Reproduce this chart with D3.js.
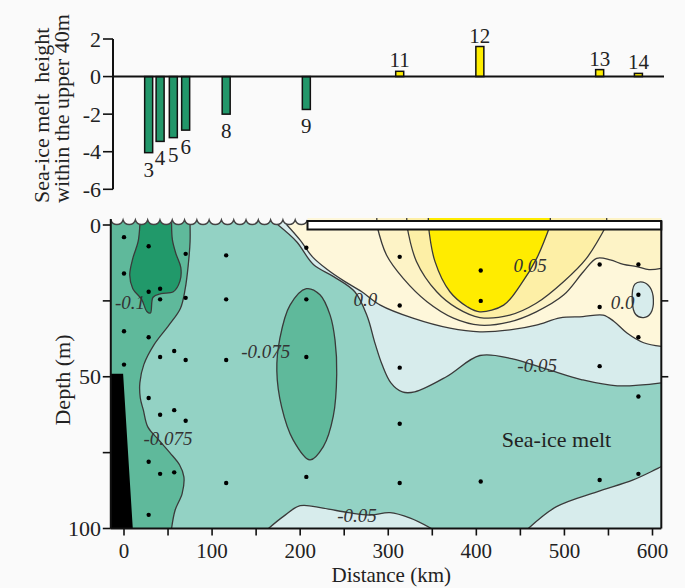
<!DOCTYPE html>
<html>
<head>
<meta charset="utf-8">
<script src="https://cdn.jsdelivr.net/npm/d3@7"></script>
<style>
  html, body { margin: 0; padding: 0; background: #fafafa; }
  svg { display: block; font-family: "Liberation Serif", "Times New Roman", serif; }
</style>
</head>
<body>
<svg id="chart" width="685" height="588"></svg>
<script>
// ---- stations and sea-ice melt height in the upper 40 m ----
const stationIds  = [3, 4, 5, 6, 8, 9, 11, 12, 13, 14];
const stationKm   = [28, 41, 56, 70, 116, 207, 313, 404, 540, 584];
const meltHeight  = [-4.05, -3.45, -3.25, -2.85, -2.0, -1.75, 0.28, 1.6, 0.37, 0.17];
const meltTicks   = [2, 0, -2, -4, -6];

// ---- CTD sample positions (distance km, depth m) ----
const sampleKm = [
  0, 0, 0, 0,
  28, 28, 28, 28, 28, 28,
  41, 41, 41, 41, 41,
  57, 57, 57,
  70, 70, 70, 70,
  116, 116, 116, 116,
  207, 207, 207, 207,
  313, 313, 313, 313, 313,
  405, 405, 405,
  540, 540, 540, 540,
  584, 584, 584, 584, 584
];
const sampleDepth = [
  4, 16, 35, 46,
  7, 22, 37, 57, 78, 95.5,
  21, 24.5, 43.5, 62.5, 82,
  41.5, 61, 81.5,
  9.5, 24, 44.5, 64.5,
  10, 24.5, 44.5, 85,
  7.5, 24.5, 43.5, 83,
  10.5, 26.5, 47, 65.5, 85,
  15, 25, 84.5,
  13, 27, 46.5, 84,
  13, 23, 37, 56.5, 82
];

// ---- axis ticks ----
const distTicks   = [0, 50, 100, 150, 200, 250, 300, 350, 400, 450, 500, 550, 600];
const distLabels  = [0, 100, 200, 300, 400, 500, 600];
const depthTicks  = [0, 25, 50, 75, 100];
const depthLabels = [0, 50, 100];
const rightTicks  = [25, 50];

// ---- sea-ice melt fraction contours (km, m) ----
const contourDeep    = [[18,0],[16,5.5],[10,11],[6.5,16.5],[10,21],[20,24.5],[26,28.5],[30,29],[33,23.8],[42,22.6],[56,22],[63.5,18.5],[64.5,14],[59,9.5],[55,5],[54,0]];        // -0.1
const contourWest    = [[75,0],[75,5.5],[73,13],[69.5,21],[64,27.5],[51,33],[34,39.5],[22.5,46],[18,52],[18.5,57],[22,61],[27,66.5],[40,71],[52,75],[63,79],[68,83],[66,88.5],[58,94],[54,100]]; // -0.075
const contourCore    = [[207,21],[222.5,23],[234,29.7],[239.6,38],[241.5,49],[237.6,63],[226.3,73],[211,77.4],[192,70.8],[179,60],[173.5,48],[177,37.3],[188.5,26.4]]; // -0.075 (closed)
const contourUpper   = [[175,0],[196,5.5],[215,13],[238,17],[262,22],[276,30],[285,39],[293,46],[303,52],[316,55],[330,55],[366,50],[404,43],[440,44],[480,47.5],[520,51],[560,53],[610,52]]; // -0.05
const contourBottomA = [[164,100],[181,96],[200,92.5],[226,93.3],[255,94.8],[279,95.6],[302,94.8],[325,96.6],[349,100]]; // -0.05
const contourBottomB = [[459,100],[491,92.8],[537,87.9],[578,84],[610,79.6]];  // -0.05
const contourZero    = [[185,0],[200,5],[214,10.5],[230,14.5],[250,18.5],[270,22],[291,26.4],[328,30.7],[370,34],[404,35.2],[440,34.5],[468,33],[495,30.6],[521,30.2],[544,29.7],[556,31.7],[571,35.6],[590,38.8],[610,40]]; // 0.0
const contourEddy    = [[580,19.5],[589,18.8],[597,20.5],[601,24.5],[598,29],[590,30.5],[581,29.5],[577,25]]; // 0.0 (closed)
const contourRing1   = [[287,0],[298,9.9],[317,17.6],[344,25.3],[374,30.7],[404,33],[438,31.9],[468,28.6],[499,23.1],[521.5,15.4],[536.6,11],[552,11.5],[567,13],[582,13.7],[596,14.7],[610,14.3]];
const contourRing2   = [[321,0],[332,12],[355,22],[378,27.4],[404,30.5],[438,29.7],[468,25.8],[499,18.7],[525,11],[548,0]];
const contourMax     = [[345.5,0],[353,12],[370,22],[390,27],[404,28.6],[431,26.4],[450,19.8],[468.5,11],[484,0]]; // 0.05
const shelf          = [[-15,49],[-1,49],[10,100],[-15,100]];

// contour labels: text, km, depth (baseline)
const labelText  = ["-0.1", "-0.075", "-0.075", "0.0", "0.05", "-0.05", "0.0", "-0.05"];
const labelKm    = [6.8, 161, 50, 274, 461, 469, 566, 264.5];
const labelDepth = [27.7, 43.8, 72.5, 26.7, 15.5, 48.4, 27.7, 97.9];

// ---- colours ----
const cDeep = "#21996a", cMid = "#5fb99b", cTeal = "#93d2c4", cBlue = "#d7ecec",
      cCream = "#fef7da", cPale = "#fdf3c6", cWarm = "#fdefa6", cCoreFill = "#ffec00";

const svg = d3.select("#chart");
const bg = "#fafafa";

// ---- scales ----
const x = d3.scaleLinear().domain([0, 600]).range([124, 652.5]);
const yD = d3.scaleLinear().domain([0, 100]).range([225, 528.5]);
const yM = d3.scaleLinear().domain([-6, 2]).range([189.3, 39]);

const kmMin = -15, kmMax = 610;
const plotL = x(kmMin), plotR = x(kmMax), plotB = yD(100);
const topFill = 218;           // fills run up under the surface symbol
const iceStart = 307.5;

// ================= TOP PANEL =================
const meltPanel = svg.append("g");
const meltAxisX = 113;

meltPanel.append("line").attr("x1", meltAxisX).attr("x2", meltAxisX)
  .attr("y1", yM(2)).attr("y2", yM(-6)).attr("stroke", "#111").attr("stroke-width", 2);
meltTicks.forEach(t => {
  meltPanel.append("line").attr("x1", meltAxisX - 10).attr("x2", meltAxisX)
    .attr("y1", yM(t)).attr("y2", yM(t)).attr("stroke", "#111").attr("stroke-width", 1.6);
  meltPanel.append("text").attr("x", 101).attr("y", yM(t) + 7.5)
    .attr("text-anchor", "end").attr("font-size", 22).attr("fill", "#222").text(t);
});

const bars = stationIds.map((id, i) => ({ id, km: stationKm[i], v: meltHeight[i] }));
meltPanel.selectAll("rect.bar").data(bars).enter().append("rect")
  .attr("x", d => x(d.km) - 4)
  .attr("width", 8)
  .attr("y", d => yM(Math.max(0, d.v)))
  .attr("height", d => Math.abs(yM(d.v) - yM(0)))
  .attr("fill", d => d.v < 0 ? "#22976a" : "#ffee00")
  .attr("stroke", "#111").attr("stroke-width", 1.5);

meltPanel.append("line").attr("x1", meltAxisX).attr("x2", 664)
  .attr("y1", yM(0)).attr("y2", yM(0)).attr("stroke", "#111").attr("stroke-width", 2);

meltPanel.selectAll("text.bl").data(bars).enter().append("text")
  .attr("x", d => x(d.km))
  .attr("y", d => d.v < 0 ? yM(d.v) + 24 : yM(d.v) - 4)
  .attr("text-anchor", "middle").attr("font-size", 21).attr("fill", "#222")
  .text(d => d.id);

// axis title (two lines)
meltPanel.append("text").attr("transform", `translate(49,203) rotate(-90)`)
  .attr("font-size", 22).attr("fill", "#222").attr("xml:space", "preserve")
  .text("Sea-ice melt  height");
meltPanel.append("text").attr("transform", `translate(69,203) rotate(-90)`)
  .attr("font-size", 22).attr("fill", "#222")
  .text("within the upper 40m");

// ================= BOTTOM PANEL =================
const defs = svg.append("defs");
defs.append("clipPath").attr("id", "plotClip").append("rect")
  .attr("x", plotL).attr("y", topFill).attr("width", plotR - plotL).attr("height", plotB - topFill);

const sec = svg.append("g").attr("clip-path", "url(#plotClip)");

const line = d3.line().x(d => x(d[0])).y(d => yD(d[1])).curve(d3.curveCatmullRom.alpha(0.5));
const loop = d3.line().x(d => x(d[0])).y(d => yD(d[1])).curve(d3.curveCatmullRomClosed.alpha(0.5));

// corner spec: [km, depth] or [km, "top"]
const P = c => `L${x(c[0])},${c[1] === "top" ? topFill : yD(c[1])}`;
const area = (pts, corners) => line(pts) + corners.map(P).join("") + "Z";

// background band (-0.075 .. -0.05)
sec.append("rect").attr("x", plotL).attr("y", topFill)
  .attr("width", plotR - plotL).attr("height", plotB - topFill).attr("fill", cTeal);

// -0.05 .. 0 bands
sec.append("path").attr("d", area(contourUpper, [[610, "top"], [175, "top"]])).attr("fill", cBlue);
sec.append("path").attr("d", area(contourBottomA, [])).attr("fill", cBlue);
sec.append("path").attr("d", area(contourBottomB, [[610, 100]])).attr("fill", cBlue);

// positive melt bands
sec.append("path").attr("d", area(contourZero, [[610, "top"], [185, "top"]])).attr("fill", cCream);
sec.append("path").attr("d", area(contourRing1, [[610, "top"], [287, "top"]])).attr("fill", cPale);
sec.append("path").attr("d", area(contourRing2, [[548, "top"], [321, "top"]])).attr("fill", cWarm);
sec.append("path").attr("d", area(contourMax, [[484, "top"], [345.5, "top"]])).attr("fill", cCoreFill);
sec.append("path").attr("d", loop(contourEddy)).attr("fill", cBlue);

// negative bands
sec.append("path").attr("d", area(contourWest, [[-15, 100], [-15, "top"], [75, "top"]])).attr("fill", cMid);
sec.append("path").attr("d", loop(contourCore)).attr("fill", cMid);
sec.append("path").attr("d", area(contourDeep, [[54, "top"], [18, "top"]])).attr("fill", cDeep);

// contour lines
const lineStyle = p => p.attr("fill", "none").attr("stroke", "#3a3a3a").attr("stroke-width", 1.3);
const surfaceBoth = pts => {
  let d = line(pts);
  if (pts[0][1] === 0) d = `M${x(pts[0][0])},${topFill}` + d.replace(/^M/, "L");
  const last = pts[pts.length - 1];
  if (last[1] === 0) d += `L${x(last[0])},${topFill}`;
  return d;
};
[contourDeep, contourWest, contourUpper, contourBottomA, contourBottomB, contourZero,
 contourRing1, contourRing2, contourMax].forEach(pts => sec.append("path").attr("d", surfaceBoth(pts)).call(lineStyle));
[contourCore, contourEddy].forEach(pts => sec.append("path").attr("d", loop(pts)).call(lineStyle));

// shelf (bottom topography)
sec.append("path").attr("d", d3.line().x(d => x(d[0])).y(d => yD(d[1]))(shelf) + "Z").attr("fill", "#000");

// sample points
const samples = sampleKm.map((k, i) => [k, sampleDepth[i]]);
sec.selectAll("circle.s").data(samples).enter().append("circle")
  .attr("cx", d => x(d[0])).attr("cy", d => yD(d[1])).attr("r", 2.2).attr("fill", "#000");

// contour labels
labelText.forEach((t, i) => {
  sec.append("text").attr("x", x(labelKm[i])).attr("y", yD(labelDepth[i]))
    .attr("text-anchor", "middle").attr("font-size", 19).attr("font-style", "italic")
    .attr("fill", "#333").text(t);
});
sec.append("text").attr("x", x(491)).attr("y", yD(73.1))
  .attr("text-anchor", "middle").attr("font-size", 22).attr("fill", "#222").text("Sea-ice melt");

// surface symbol: open water waves and ice cover
const nWaves = 16, waveW = (iceStart - plotL) / nWaves, cusp = 220, sag = 4.5;
const arcR = ((waveW / 2) ** 2 + sag * sag) / (2 * sag);
let arcs = "";
for (let i = 1; i <= nWaves; i++) arcs += `A${arcR},${arcR} 0 0 0 ${plotL + i * waveW},${cusp}`;
svg.append("path").attr("d", `M${plotL},212L${plotL},${cusp}${arcs}L${iceStart},212Z`).attr("fill", bg);
svg.append("path").attr("d", `M${plotL},${cusp}${arcs}`).attr("fill", "none").attr("stroke", "#444").attr("stroke-width", 1.5);
svg.append("rect").attr("x", iceStart).attr("y", 221).attr("width", plotR - iceStart).attr("height", 8.5)
  .attr("fill", "#fff").attr("stroke", "#111").attr("stroke-width", 2);

// frame and axes
const ax = svg.append("g").attr("stroke", "#111").attr("stroke-width", 2);
ax.append("line").attr("x1", plotL).attr("x2", plotL).attr("y1", 219).attr("y2", plotB);
ax.append("line").attr("x1", plotL).attr("x2", plotR).attr("y1", plotB).attr("y2", plotB);
ax.append("line").attr("x1", plotR).attr("x2", plotR).attr("y1", 221).attr("y2", plotB);

distTicks.forEach(t => {
  ax.append("line").attr("x1", x(t)).attr("x2", x(t)).attr("y1", plotB).attr("y2", plotB + 7).attr("stroke-width", 1.6);
});
depthTicks.forEach(t => {
  ax.append("line").attr("x1", plotL - 8).attr("x2", plotL).attr("y1", yD(t)).attr("y2", yD(t)).attr("stroke-width", 1.6);
});
rightTicks.forEach(t => {
  ax.append("line").attr("x1", plotR).attr("x2", plotR + 7).attr("y1", yD(t)).attr("y2", yD(t)).attr("stroke-width", 1.6);
});
distLabels.forEach(t => {
  svg.append("text").attr("x", x(t)).attr("y", plotB + 29).attr("text-anchor", "middle")
    .attr("font-size", 21).attr("fill", "#222").text(t);
});
depthLabels.forEach(t => {
  svg.append("text").attr("x", 101).attr("y", yD(t) + 7.5).attr("text-anchor", "end")
    .attr("font-size", 22).attr("fill", "#222").text(t);
});

svg.append("text").attr("x", x(300) + 3).attr("y", 582).attr("text-anchor", "middle")
  .attr("font-size", 21).attr("fill", "#222").text("Distance (km)");
svg.append("text").attr("transform", `translate(70,380) rotate(-90)`).attr("text-anchor", "middle")
  .attr("font-size", 22).attr("fill", "#222").text("Depth (m)");
</script>
</body>
</html>
